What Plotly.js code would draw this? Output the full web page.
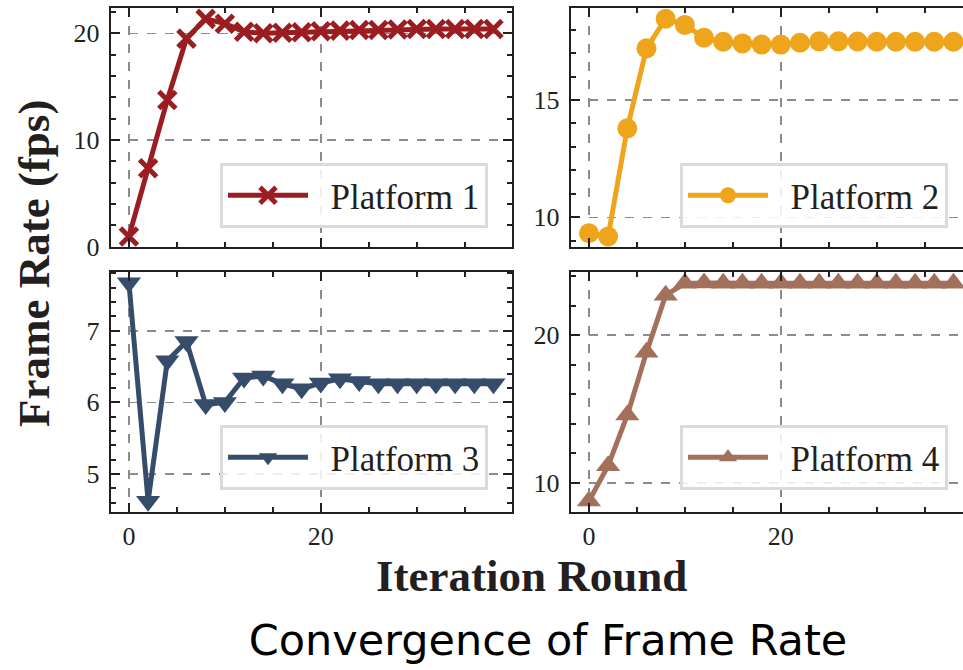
<!DOCTYPE html>
<html>
<head>
<meta charset="utf-8">
<script src="https://cdn.plot.ly/plotly-3.0.1.min.js"></script>
<style>
html,body{margin:0;padding:0;overflow:hidden;background:#fff;}
#chart{width:973px;height:670px;}
</style>
</head>
<body>
<div id="chart"></div>
<script>
// ---- data ----
const iterations = [0,2,4,6,8,10,12,14,16,18,20,22,24,26,28,30,32,34,36,38];
const platform1 = [0.96,7.35,13.75,19.5,21.35,20.9,20.15,20.0,20.05,20.1,20.2,20.25,20.3,20.3,20.35,20.4,20.4,20.4,20.4,20.4];
const platform2 = [9.32,9.18,13.79,17.2,18.46,18.2,17.65,17.48,17.41,17.36,17.36,17.44,17.5,17.5,17.49,17.48,17.48,17.48,17.48,17.48];
const platform3 = [7.67,4.62,6.58,6.85,5.97,6.0,6.34,6.37,6.26,6.19,6.27,6.33,6.29,6.26,6.26,6.26,6.26,6.26,6.26,6.26];
const platform4 = [8.76,11.15,14.58,18.83,22.7,23.5,23.53,23.5,23.5,23.5,23.5,23.5,23.5,23.5,23.5,23.5,23.5,23.5,23.5,23.5];
const seriesNames = ['Platform 1','Platform 2','Platform 3','Platform 4'];
const xTickMajor = 20;
const yTickMajor = [10, 5, 1, 10];
const yTickMinor = [2, 1, 0.2, 2];

// ---- styles ----
const colors = ['#9b1d22', '#eea41b', '#354d6a', '#a2705b'];
const symbols = ['x-thin', 'circle', 'triangle-down', 'triangle-up'];
const serif = 'Liberation Serif, Times New Roman, serif';
const W = 973, H = 670;
const legendPad = '\u00A0\u00A0';

function markerFor(i) {
  if (symbols[i] === 'x-thin') {
    return {symbol: 'x-thin', size: 17, color: colors[i], line: {color: colors[i], width: 5}};
  }
  return {symbol: symbols[i], size: i === 1 ? 20 : 21, color: colors[i], line: {width: 0}};
}

const seriesValues = [platform1, platform2, platform3, platform4];
const traces = seriesValues.map((vals, i) => ({
  type: 'scatter', mode: 'lines+markers',
  x: iterations, y: vals, name: legendPad + seriesNames[i],
  xaxis: i === 0 ? 'x' : 'x' + (i + 1),
  yaxis: i === 0 ? 'y' : 'y' + (i + 1),
  legend: i === 0 ? 'legend' : 'legend' + (i + 1),
  line: {color: colors[i], width: 5},
  marker: markerFor(i),
  showlegend: true
}));

const axisBase = {
  showline: true, linecolor: '#231f20', linewidth: 2, mirror: 'allticks',
  ticks: 'inside', ticklen: 9, tickwidth: 2, tickcolor: '#231f20',
  showgrid: true, gridcolor: '#8c8c8c', griddash: 'dash', gridwidth: 1.5,
  zeroline: false, fixedrange: true,
  tickfont: {family: serif, size: 26, color: '#231f20'}
};
function minor(d) {
  return {ticks: 'inside', ticklen: 5, tickwidth: 2, tickcolor: '#231f20', dtick: d, showgrid: false};
}

const px = v => v / W, py = v => 1 - v / H;
const colDom = [[px(110.7), px(511.7)], [px(570.7), px(971.7)]];
const rowDom = [[py(247.3), py(8)], [py(512), py(272)]];
const yRanges = [[-0.06, 22.37], [8.72, 18.92], [4.47, 7.82], [8.02, 24.27]];

const layout = {
  width: W, height: H,
  margin: {l: 0, r: 0, t: 0, b: 0, pad: 0},
  paper_bgcolor: '#fff', plot_bgcolor: '#fff',
  font: {family: serif, color: '#231f20'},
  title: {
    text: 'Convergence of Frame Rate',
    font: {family: 'DejaVu Sans, sans-serif', size: 43, color: '#000'},
    x: 548 / W, xanchor: 'center', xref: 'container',
    y: 1 - 640 / H, yanchor: 'middle', yref: 'container'
  },
  annotations: [
    {text: 'Frame Rate (fps)', textangle: -90, xref: 'paper', yref: 'paper',
     x: px(34), y: py(264), xanchor: 'center', yanchor: 'middle', showarrow: false,
     font: {family: serif, size: 45, color: '#231f20', weight: 'bold'}},
    {text: 'Iteration Round', xref: 'paper', yref: 'paper',
     x: px(531), y: py(576), xanchor: 'center', yanchor: 'middle', showarrow: false,
     borderpad: 0,
     font: {family: serif, size: 45, color: '#231f20', weight: 'bold'}}
  ]
};

for (let i = 0; i < 4; i++) {
  const col = i % 2, row = Math.floor(i / 2);
  const xk = i === 0 ? 'xaxis' : 'xaxis' + (i + 1);
  const yk = i === 0 ? 'yaxis' : 'yaxis' + (i + 1);
  const yAnchor = i === 0 ? 'y' : 'y' + (i + 1);
  const xAnchor = i === 0 ? 'x' : 'x' + (i + 1);
  layout[xk] = Object.assign({}, axisBase, {
    domain: colDom[col], anchor: yAnchor, range: [-1.9, 39.9],
    tick0: 0, dtick: xTickMajor, minor: minor(5), showticklabels: row === 1
  });
  layout[yk] = Object.assign({}, axisBase, {
    domain: rowDom[row], anchor: xAnchor, range: yRanges[i],
    tick0: 0, dtick: yTickMajor[i], minor: minor(yTickMinor[i]),
    ticklabelstandoff: 4
  });
  const lk = i === 0 ? 'legend' : 'legend' + (i + 1);
  const legRight = col === 0 ? 488 : 948;
  const legBottom = row === 0 ? 228 : 490;
  layout[lk] = {
    x: px(legRight), y: py(legBottom), xanchor: 'right', yanchor: 'bottom',
    xref: 'paper', yref: 'paper',
    bgcolor: 'rgba(255,255,255,0.85)', bordercolor: '#dadada', borderwidth: 3,
    font: {family: serif, size: 35, color: '#231f20'},
    itemwidth: 80
  };
}

Plotly.newPlot('chart', traces, layout, {staticPlot: true, displayModeBar: false});
</script>
</body>
</html>
